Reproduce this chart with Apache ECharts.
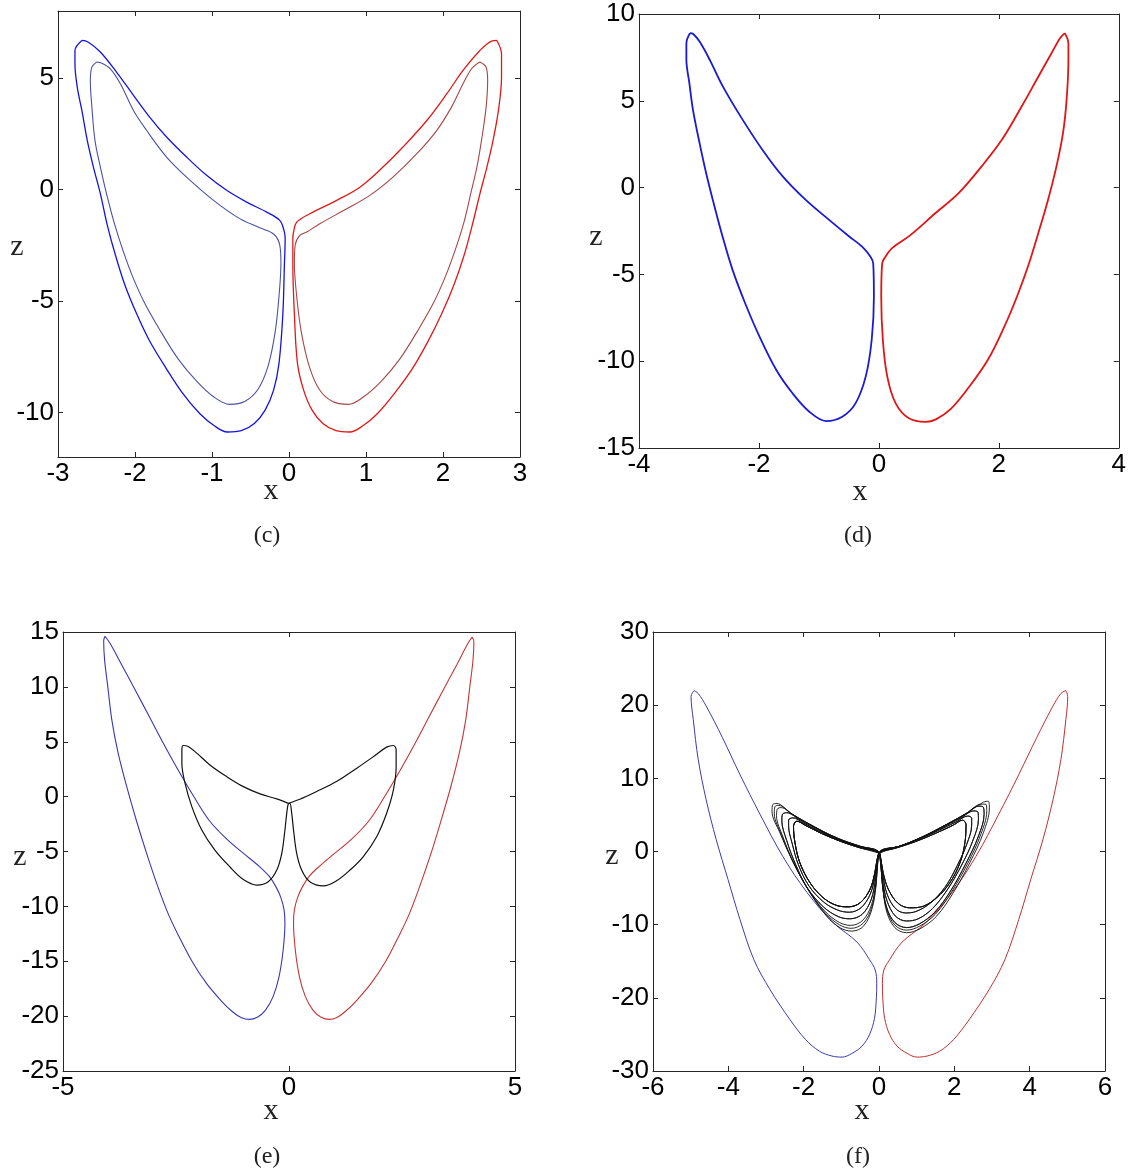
<!DOCTYPE html>
<html>
<head>
<meta charset="utf-8">
<title>Phase portraits (x, z)</title>
<script src="https://cdn.jsdelivr.net/npm/echarts@6/dist/echarts.min.js"></script>
<style>
  html, body { margin: 0; padding: 0; background: #fff; }
  #chart { width: 1129px; height: 1172px; }
</style>
</head>
<body>
<div id="chart"></div>
<script>
// ---- panel (c): two left loops (blue) and two right loops (red) ----
const cBlueOuter = [[-2.69,6.68],[-2.78,6.23],[-2.78,5.64],[-2.75,4.59],[-2.69,3.54],[-2.62,2.20],[-2.54,1.00],[-2.45,-0.19],[-2.36,-1.60],[-2.25,-3.00],[-2.13,-4.30],[-1.98,-5.57],[-1.81,-6.80],[-1.60,-8.00],[-1.39,-9.10],[-1.16,-10.05],[-0.97,-10.60],[-0.80,-10.88],[-0.62,-10.82],[-0.45,-10.50],[-0.31,-9.90],[-0.20,-9.00],[-0.13,-7.80],[-0.08,-5.60],[-0.06,-3.40],[-0.05,-2.20],[-0.065,-1.84],[-0.12,-1.39],[-0.29,-1.02],[-0.55,-0.57],[-0.81,-0.04],[-1.07,0.63],[-1.33,1.45],[-1.59,2.35],[-1.81,3.24],[-2.02,4.22],[-2.24,5.26],[-2.45,6.16],[-2.61,6.61],[-2.69,6.68]];
const cBlueInner = [[-2.50,5.71],[-2.56,5.48],[-2.58,4.89],[-2.56,3.69],[-2.52,2.20],[-2.45,1.00],[-2.37,-0.19],[-2.27,-1.50],[-2.15,-2.80],[-2.02,-4.00],[-1.86,-5.20],[-1.66,-6.40],[-1.44,-7.60],[-1.20,-8.60],[-0.98,-9.30],[-0.77,-9.64],[-0.57,-9.50],[-0.40,-8.95],[-0.27,-7.90],[-0.18,-6.40],[-0.13,-4.80],[-0.105,-3.30],[-0.12,-2.50],[-0.20,-2.00],[-0.38,-1.72],[-0.64,-1.31],[-0.98,-0.49],[-1.33,0.55],[-1.59,1.45],[-1.85,2.65],[-2.02,3.54],[-2.19,4.74],[-2.32,5.41],[-2.43,5.66],[-2.50,5.71]];
const cRedOuter = [[2.70,6.68],[2.76,6.08],[2.76,5.04],[2.72,3.54],[2.65,2.20],[2.57,1.00],[2.48,-0.19],[2.38,-1.60],[2.27,-3.00],[2.14,-4.30],[1.98,-5.60],[1.80,-6.85],[1.60,-8.05],[1.38,-9.10],[1.15,-10.05],[0.96,-10.60],[0.79,-10.88],[0.61,-10.82],[0.44,-10.50],[0.30,-9.90],[0.19,-9.00],[0.11,-7.80],[0.07,-5.60],[0.05,-3.40],[0.05,-2.20],[0.06,-1.90],[0.10,-1.47],[0.27,-1.09],[0.62,-0.49],[0.92,0.10],[1.22,1.00],[1.48,1.90],[1.79,3.09],[2.05,4.29],[2.26,5.34],[2.48,6.23],[2.63,6.65],[2.70,6.68]];
const cRedInner = [[2.48,5.71],[2.56,5.48],[2.58,4.89],[2.56,3.69],[2.50,2.20],[2.44,1.00],[2.36,-0.19],[2.27,-1.50],[2.15,-2.80],[2.02,-4.00],[1.86,-5.20],[1.66,-6.40],[1.44,-7.60],[1.20,-8.60],[0.97,-9.30],[0.77,-9.64],[0.56,-9.50],[0.39,-8.95],[0.26,-7.90],[0.16,-6.40],[0.10,-4.80],[0.07,-3.30],[0.08,-2.50],[0.14,-2.06],[0.23,-1.91],[0.40,-1.54],[0.75,-0.87],[1.05,-0.27],[1.35,0.55],[1.66,1.60],[1.92,2.65],[2.11,3.69],[2.26,4.74],[2.37,5.41],[2.44,5.63],[2.48,5.71]];

// ---- panel (d): single left / right loops ----
const dBlue = [[-3.15,8.90],[-3.21,8.32],[-3.21,7.36],[-3.16,6.02],[-3.10,4.48],[-2.99,2.56],[-2.88,0.83],[-2.74,-1.10],[-2.60,-2.90],[-2.44,-4.74],[-2.23,-6.66],[-1.99,-8.59],[-1.71,-10.51],[-1.44,-11.85],[-1.16,-12.91],[-0.88,-13.45],[-0.61,-13.20],[-0.39,-12.43],[-0.22,-10.89],[-0.12,-8.78],[-0.083,-6.28],[-0.095,-4.36],[-0.14,-3.98],[-0.28,-3.40],[-0.50,-2.80],[-0.83,-1.86],[-1.22,-0.71],[-1.60,0.63],[-1.94,2.17],[-2.27,3.90],[-2.60,5.82],[-2.82,7.36],[-2.99,8.41],[-3.10,8.86],[-3.15,8.90]];
const dRed = [[3.10,8.90],[3.16,8.32],[3.16,7.36],[3.13,5.05],[3.07,3.14],[2.96,1.21],[2.82,-0.71],[2.66,-2.60],[2.50,-4.40],[2.30,-6.30],[2.08,-8.10],[1.82,-9.90],[1.50,-11.50],[1.20,-12.75],[0.95,-13.35],[0.78,-13.49],[0.50,-13.29],[0.28,-12.43],[0.14,-10.89],[0.066,-8.78],[0.039,-6.28],[0.055,-4.36],[0.11,-3.98],[0.22,-3.49],[0.52,-2.75],[0.94,-1.48],[1.33,-0.32],[1.71,1.21],[2.05,2.75],[2.38,4.67],[2.66,6.40],[2.88,7.75],[3.02,8.61],[3.10,8.90]];

// ---- panel (e): outer loops plus the small two-lobed orbit ----
const eBlue = [[-4.07,14.61],[-4.10,14.20],[-4.08,12.48],[-4.01,10.05],[-3.92,7.00],[-3.78,3.96],[-3.59,0.91],[-3.38,-2.13],[-3.15,-5.17],[-2.90,-8.22],[-2.66,-10.80],[-2.44,-12.70],[-2.15,-14.97],[-1.83,-17.00],[-1.50,-18.60],[-1.25,-19.60],[-1.05,-20.15],[-0.88,-20.30],[-0.70,-20.10],[-0.52,-19.45],[-0.35,-18.20],[-0.22,-16.40],[-0.13,-14.00],[-0.09,-11.50],[-0.11,-10.30],[-0.18,-9.20],[-0.29,-8.20],[-0.44,-7.25],[-0.66,-6.35],[-1.00,-5.20],[-1.37,-3.90],[-1.76,-2.20],[-2.12,0.10],[-2.45,2.40],[-2.76,4.70],[-3.08,7.20],[-3.40,9.70],[-3.70,12.00],[-3.95,13.90],[-4.07,14.61]];
const eRed = [[4.05,14.55],[4.09,14.15],[4.07,12.40],[4.00,10.00],[3.91,7.00],[3.77,4.00],[3.58,0.90],[3.37,-2.10],[3.14,-5.20],[2.89,-8.20],[2.65,-10.80],[2.43,-12.70],[2.14,-15.00],[1.82,-17.00],[1.49,-18.60],[1.24,-19.60],[1.05,-20.15],[0.89,-20.30],[0.71,-20.10],[0.53,-19.45],[0.36,-18.20],[0.23,-16.40],[0.14,-14.00],[0.10,-11.50],[0.12,-10.30],[0.19,-9.20],[0.30,-8.20],[0.45,-7.25],[0.67,-6.35],[1.00,-5.20],[1.38,-3.90],[1.77,-2.20],[2.13,0.10],[2.46,2.40],[2.77,4.70],[3.09,7.20],[3.41,9.70],[3.71,12.00],[3.95,13.90],[4.05,14.55]];
const eBlack = [[-0.015,-0.61],[-0.27,-0.21],[-0.64,0.25],[-1.01,0.91],[-1.38,1.83],[-1.75,2.89],[-2.04,3.96],[-2.23,4.57],[-2.34,4.66],[-2.37,4.26],[-2.37,3.05],[-2.30,1.22],[-2.15,-0.91],[-1.93,-3.04],[-1.64,-4.87],[-1.31,-6.39],[-1.01,-7.55],[-0.71,-8.06],[-0.46,-7.76],[-0.27,-6.69],[-0.16,-5.17],[-0.09,-3.04],[-0.05,-1.52],[-0.015,-0.65],[0.02,-0.61],[0.06,-1.52],[0.10,-3.04],[0.17,-5.17],[0.28,-6.69],[0.46,-7.76],[0.76,-8.13],[1.05,-7.67],[1.35,-6.69],[1.64,-5.48],[1.94,-3.65],[2.16,-1.52],[2.31,0.61],[2.37,2.74],[2.37,4.26],[2.31,4.66],[2.16,4.51],[1.87,3.65],[1.50,2.59],[1.05,1.37],[0.61,0.46],[0.24,-0.24],[-0.015,-0.61]];

// ---- panel (f): outer loops plus the chaotic two-lobed set ----
const fBlue = [[-4.91,22.0],[-4.99,21.2],[-4.93,18.0],[-4.80,12.6],[-4.59,7.1],[-4.32,1.6],[-4.01,-3.8],[-3.69,-9.3],[-3.32,-14.8],[-2.89,-18.9],[-2.36,-23.0],[-1.95,-25.7],[-1.58,-27.3],[-1.25,-27.95],[-0.98,-28.1],[-0.72,-27.6],[-0.45,-26.6],[-0.25,-25.0],[-0.12,-22.8],[-0.07,-20.0],[-0.06,-18.0],[-0.10,-16.2],[-0.25,-14.8],[-0.58,-12.4],[-1.22,-9.7],[-1.91,-5.6],[-2.55,-0.7],[-3.16,5.1],[-3.69,10.5],[-4.16,15.6],[-4.59,19.9],[-4.80,21.6],[-4.91,22.0]];
const fRed = [[4.96,22.0],[5.01,21.2],[4.96,18.0],[4.83,12.6],[4.62,7.1],[4.35,1.6],[4.03,-3.8],[3.71,-9.3],[3.34,-14.8],[2.92,-18.9],[2.39,-23.0],[1.98,-25.7],[1.61,-27.3],[1.28,-27.95],[1.01,-28.1],[0.75,-27.6],[0.48,-26.6],[0.28,-25.0],[0.15,-22.8],[0.10,-20.0],[0.09,-18.0],[0.13,-16.2],[0.28,-14.8],[0.61,-12.4],[1.25,-9.7],[1.94,-5.6],[2.57,-0.7],[3.18,5.1],[3.71,10.5],[4.19,15.6],[4.62,19.9],[4.83,21.6],[4.96,22.0]];
// left-lobe and right-lobe turns of the black trajectory, innermost first
const fLeft1 = [[-0.02,-0.18],[-0.50,0.50],[-1.03,1.41],[-1.56,2.55],[-1.96,3.60],[-2.18,4.14],[-2.27,3.46],[-2.23,1.18],[-2.10,-1.55],[-1.83,-4.28],[-1.48,-6.33],[-1.12,-7.38],[-0.81,-7.56],[-0.50,-7.01],[-0.24,-5.19],[-0.11,-2.91],[-0.05,-1.09]];
const fLeft2 = [[-0.02,-0.10],[-0.50,0.60],[-1.05,1.60],[-1.60,2.80],[-2.02,3.95],[-2.28,4.60],[-2.40,4.30],[-2.40,3.50],[-2.30,1.00],[-2.14,-1.80],[-1.86,-4.70],[-1.47,-6.90],[-1.10,-8.00],[-0.79,-8.30],[-0.48,-7.70],[-0.23,-5.80],[-0.10,-3.20],[-0.04,-1.20]];
const fLeft3 = [[-0.02,0.00],[-0.50,0.65],[-1.08,1.70],[-1.65,3.10],[-2.12,4.40],[-2.45,5.30],[-2.56,5.10],[-2.58,4.20],[-2.45,1.50],[-2.22,-1.70],[-1.90,-5.00],[-1.47,-7.60],[-1.08,-8.90],[-0.78,-9.20],[-0.45,-8.60],[-0.21,-6.60],[-0.09,-3.70],[-0.04,-1.50]];
const fLeft4 = [[-0.02,0.02],[-0.50,0.70],[-1.10,1.80],[-1.70,3.30],[-2.25,4.90],[-2.60,6.00],[-2.70,5.80],[-2.72,4.90],[-2.55,2.00],[-2.26,-1.60],[-1.87,-5.30],[-1.43,-8.20],[-1.05,-9.70],[-0.75,-10.10],[-0.43,-9.40],[-0.20,-7.30],[-0.08,-4.20],[-0.04,-1.70]];
const fLeft5 = [[-0.02,0.03],[-0.50,0.72],[-1.11,1.84],[-1.72,3.38],[-2.30,5.10],[-2.66,6.30],[-2.76,6.15],[-2.78,5.20],[-2.59,2.30],[-2.27,-1.55],[-1.85,-5.45],[-1.41,-8.50],[-1.04,-10.05],[-0.74,-10.50],[-0.42,-9.80],[-0.19,-7.60],[-0.08,-4.50],[-0.04,-1.85]];
const fLeft6 = [[-0.02,0.04],[-0.50,0.73],[-1.12,1.87],[-1.74,3.46],[-2.36,5.28],[-2.71,6.56],[-2.82,6.42],[-2.84,5.51],[-2.63,2.55],[-2.27,-1.55],[-1.83,-5.65],[-1.39,-8.83],[-1.03,-10.43],[-0.72,-10.88],[-0.41,-10.20],[-0.19,-7.92],[-0.08,-4.74],[-0.04,-2.00]];
const fRight1 = [[0.03,-0.18],[0.47,0.50],[1.00,1.41],[1.53,2.55],[1.97,3.60],[2.22,4.28],[2.31,3.69],[2.28,1.18],[2.15,-1.55],[1.88,-4.28],[1.53,-6.33],[1.18,-7.47],[0.82,-7.70],[0.51,-7.10],[0.25,-5.19],[0.11,-2.91],[0.05,-1.09]];
const fRight2 = [[0.03,-0.10],[0.49,0.60],[1.03,1.62],[1.58,2.88],[2.05,4.05],[2.36,4.85],[2.46,4.55],[2.46,3.60],[2.33,1.00],[2.08,-1.90],[1.75,-4.90],[1.35,-7.10],[0.98,-8.20],[0.70,-8.40],[0.44,-7.80],[0.22,-5.90],[0.10,-3.20],[0.05,-1.20]];
const fRight3 = [[0.03,0.00],[0.51,0.66],[1.07,1.75],[1.64,3.18],[2.16,4.55],[2.52,5.55],[2.63,5.35],[2.64,4.40],[2.50,1.60],[2.21,-1.70],[1.83,-5.10],[1.42,-7.80],[1.04,-9.20],[0.73,-9.50],[0.43,-8.80],[0.21,-6.70],[0.09,-3.80],[0.05,-1.50]];
const fRight4 = [[0.03,0.02],[0.53,0.70],[1.12,1.90],[1.70,3.45],[2.28,5.05],[2.65,6.20],[2.77,6.05],[2.79,5.10],[2.64,2.10],[2.31,-1.60],[1.90,-5.40],[1.48,-8.30],[1.07,-9.90],[0.73,-10.40],[0.42,-9.70],[0.20,-7.60],[0.09,-4.40],[0.05,-1.80]];
const fRight5 = [[0.03,0.03],[0.54,0.72],[1.15,2.00],[1.75,3.57],[2.34,5.28],[2.71,6.47],[2.84,6.45],[2.86,5.50],[2.70,2.30],[2.36,-1.58],[1.93,-5.50],[1.50,-8.55],[1.08,-10.20],[0.73,-10.75],[0.42,-10.05],[0.20,-7.85],[0.09,-4.55],[0.05,-1.90]];
const fRight6 = [[0.03,0.04],[0.56,0.73],[1.18,2.09],[1.80,3.69],[2.41,5.51],[2.77,6.74],[2.90,6.87],[2.93,5.96],[2.77,2.55],[2.41,-1.55],[1.97,-5.65],[1.53,-8.83],[1.09,-10.56],[0.73,-11.10],[0.42,-10.40],[0.20,-8.15],[0.10,-4.74],[0.05,-2.00]];
// order in which the trajectory visits the lobes
const fBlack = [].concat(fLeft1, fRight1, fLeft2, fRight2, fLeft1, fRight1, fLeft3, fRight3, fLeft1, fRight2,
  fLeft4, fRight4, fLeft2, fRight1, fLeft5, fRight5, fLeft1, fRight3, fLeft6, fRight6, fLeft3, fRight4, [fLeft1[0]]);

// ---- axis ranges and tick labels ----
const cZTicks = [-10, -5, 0, 5];

const panels = [
  { grid: { left: 58, top: 11, width: 462, height: 446 }, x: [-3, 3, 1], z: [-12, 8, null], zTicks: cZTicks },
  { grid: { left: 639, top: 14, width: 482, height: 434 }, x: [-4, 4, 2], z: [-15, 10, 5] },
  { grid: { left: 63, top: 632, width: 452, height: 439 }, x: [-5, 5, 5], z: [-25, 15, 5] },
  { grid: { left: 653, top: 632, width: 452, height: 439 }, x: [-6, 6, 2], z: [-30, 30, 10] }
];

const AXIS_COLOR = '#262626';
const TICK_FONT = { fontSize: 26, fontFamily: '"Liberation Sans", Arial, sans-serif', color: '#000' };

function axisCommon(show) {
  return {
    type: 'value',
    axisLine: { show: true, onZero: false, lineStyle: { color: AXIS_COLOR, width: 1 } },
    axisTick: { show: true, inside: true, length: 5, lineStyle: { color: AXIS_COLOR, width: 1 } },
    splitLine: { show: false },
    axisLabel: Object.assign({ show: show, margin: 4, showMinLabel: true, showMaxLabel: true }, TICK_FONT)
  };
}

const grids = [], xAxes = [], yAxes = [];
panels.forEach((p, i) => {
  grids.push(p.grid);
  ['bottom', 'top'].forEach((pos, k) => {
    const a = axisCommon(k === 0);
    Object.assign(a, { gridIndex: i, position: pos, min: p.x[0], max: p.x[1], interval: p.x[2] });
    xAxes[i + 4 * k] = a;
  });
  ['left', 'right'].forEach((pos, k) => {
    const a = axisCommon(k === 0);
    Object.assign(a, { gridIndex: i, position: pos, min: p.z[0], max: p.z[1] });
    if (p.z[2] != null) {
      a.interval = p.z[2];
    } else {
      a.axisLabel.customValues = p.zTicks;
      a.axisTick.customValues = p.zTicks;
    }
    yAxes[i + 4 * k] = a;
  });
});

function curve(idx, data, color, width) {
  return {
    type: 'line', xAxisIndex: idx, yAxisIndex: idx, data: data,
    showSymbol: false, symbol: 'none', smooth: 0.35, clip: true,
    lineStyle: { color: color, width: width }, silent: true
  };
}

const series = [
  curve(0, cBlueInner, '#4a52a6', 1.1),
  curve(0, cBlueOuter, '#1414e0', 1.3),
  curve(0, cRedInner, '#a64646', 1.1),
  curve(0, cRedOuter, '#e01818', 1.3),
  curve(1, dBlue, '#1a1ad4', 1.8),
  curve(1, dRed, '#e01616', 1.8),
  curve(2, eBlue, '#3838b4', 1.1),
  curve(2, eRed, '#c43636', 1.1),
  curve(2, eBlack, '#111111', 1.2),
  curve(3, fBlue, '#3c3cb0', 1.0),
  curve(3, fRed, '#c03030', 1.0),
  curve(3, fBlack, '#111111', 0.9)
];

const SERIF = '"Liberation Serif", "DejaVu Serif", serif';
function label(text, x, y, size) {
  return { type: 'text', x: x, y: y, silent: true,
    style: { text: text, font: size + 'px ' + SERIF, fill: '#222', align: 'center', verticalAlign: 'middle' } };
}

const graphic = [
  label('x', 271, 491, 30), label('z', 17, 247, 30), label('(c)', 267, 536, 24),
  label('x', 860, 492, 30), label('z', 596, 237, 30), label('(d)', 858, 536, 24),
  label('x', 271, 1111, 30), label('z', 20, 857, 30), label('(e)', 267, 1157, 24),
  label('x', 862, 1111, 30), label('z', 612, 856, 30), label('(f)', 858, 1157, 24)
];

const chart = echarts.init(document.getElementById('chart'), null, { renderer: 'canvas' });
chart.setOption({
  backgroundColor: '#ffffff',
  animation: false,
  grid: grids,
  xAxis: xAxes,
  yAxis: yAxes,
  series: series,
  graphic: graphic
});
</script>
</body>
</html>
